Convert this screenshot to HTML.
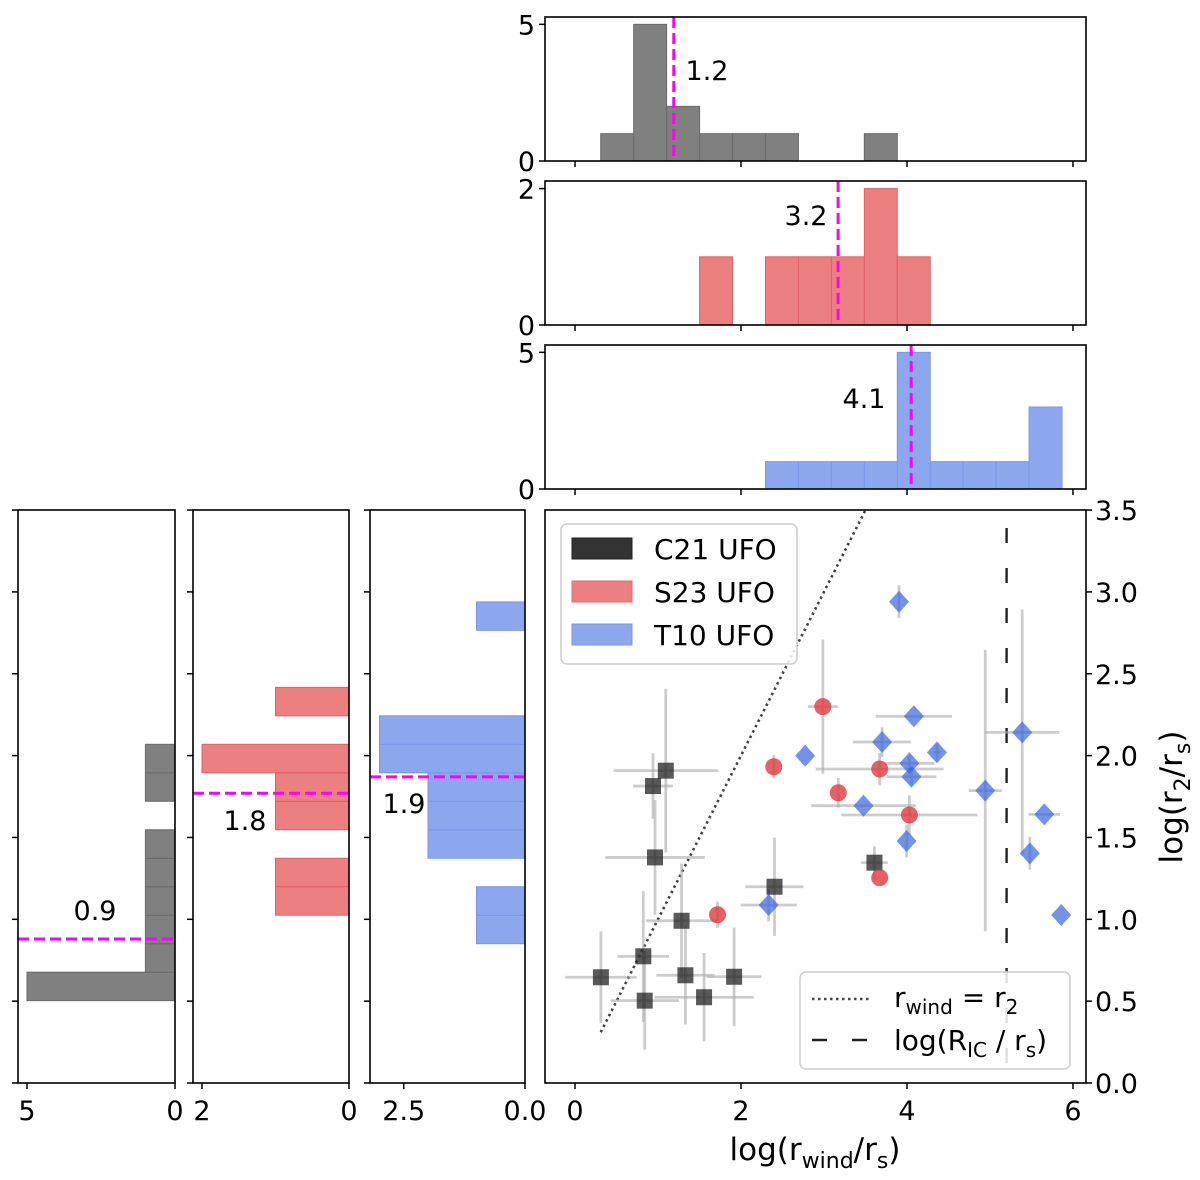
<!DOCTYPE html>
<html><head><meta charset="utf-8"><title>UFO wind radius chart</title>
<style>
html,body{margin:0;padding:0;background:#fff;}
svg{display:block;font-family:"DejaVu Sans","Liberation Sans",sans-serif;}
</style></head>
<body>
<svg id="fig" width="1200" height="1180" viewBox="0 0 1200 1180" xmlns="http://www.w3.org/2000/svg"></svg>
<script>
// ---------- data ----------
const c21X = [1.094,0.94,0.964,2.404,3.608,1.284,0.823,0.312,1.33,1.917,1.555,0.84];
const c21Y = [1.908,1.814,1.378,1.199,1.346,0.991,0.774,0.646,0.658,0.649,0.524,0.503];
const c21XErr = [0.63,0.24,0.6,0.35,0.16,0.43,0.31,0.43,0.35,0.33,0.6,0.41];
const c21YErr = [0.5,0.2,0.35,0.3,0.1,0.35,0.4,0.28,0.3,0.3,0.27,0.3];
const s23X = [2.986,2.395,3.671,3.172,4.029,3.671,1.717];
const s23Y = [2.299,1.932,1.918,1.773,1.637,1.254,1.028];
const s23XErr = [0.18,0,0.77,0,0.82,0,0];
const s23YErr = [0.41,0.07,0.1,0.09,0.12,0,0.08];
const t10X = [3.904,4.083,2.773,3.7,4.361,4.029,4.054,5.388,4.943,3.476,5.654,3.995,5.48,2.333,5.858];
const t10Y = [2.94,2.24,1.999,2.083,2.02,1.953,1.871,2.142,1.786,1.694,1.641,1.478,1.403,1.087,1.026];
const t10XErr = [0,0.46,0,0.35,0.05,0.3,0.3,0.45,0.2,0.63,0.19,0,0,0.34,0];
const t10YErr = [0.1,0,0,0.09,0.05,0.05,0.05,0.75,0.86,0,0,0.1,0.1,0.1,0];
// top histograms (log r_wind), 14 bins from 0.31 to 5.87
const xBinStart = 0.31;
const xBinWidth = 0.397;
const c21XCounts = [1,5,2,1,1,1,0,0,1,0,0,0,0,0];
const s23XCounts = [0,0,0,1,0,1,1,1,2,1,0,0,0,0];
const t10XCounts = [0,0,0,0,0,1,1,1,1,5,1,1,1,3];
const xMedians = [1.19,3.17,4.05];
const xMedianLabels = ["1.2","3.2","4.1"];
// left histograms (log r2), 14 bins from 0.503
const yBinStart = 0.503;
const yBinWidth = 0.174;
const c21YCounts = [5,1,1,1,1,1,0,1,1,0,0,0,0,0];
const s23YCounts = [0,0,0,1,1,0,1,1,2,0,1,0,0,0];
const t10YCounts = [0,0,1,1,0,2,2,2,3,3,0,0,0,1];
const yMedians = [0.88,1.77,1.87];
const yMedianLabels = ["0.9","1.8","1.9"];
const xTicks = [0,2,4,6];
const yTicks = [0,0.5,1,1.5,2,2.5,3,3.5];
const yTickLabels = ["0.0","0.5","1.0","1.5","2.0","2.5","3.0","3.5"];
const rIC = 5.2;

// ---------- scales ----------
const sx = v => 575 + 83 * v;
const sy = v => 1083 - 163.7 * v;
const NS = "http://www.w3.org/2000/svg";
const svg = document.getElementById('fig');
const FS = 27;
function mk(tag, attrs, parent, text) {
  const e = document.createElementNS(NS, tag);
  for (const k in attrs) e.setAttribute(k, attrs[k]);
  if (text !== undefined) e.textContent = text;
  (parent || svg).appendChild(e);
  return e;
}
const MAG = '#ff00ff';

// ---------- top histograms ----------
const topPanels = [
  {top:17, bottom:161, ppu:27.33, counts:c21XCounts, fill:'#808080', edge:'#6a6a6a', ticks:[0,5], name:'c21'},
  {top:181, bottom:325, ppu:68.2, counts:s23XCounts, fill:'#ec7f80', edge:'#e06264', ticks:[0,2], name:'s23'},
  {top:345, bottom:489, ppu:27.33, counts:t10XCounts, fill:'#8da7ef', edge:'#7a96ea', ticks:[0,5], name:'t10'}
];
topPanels.forEach((p, pi) => {
  const g = mk('g', {});
  
  
  p.counts.forEach((c, i) => {
    if (!c) return;
    const x0 = sx(xBinStart + i * xBinWidth), x1 = sx(xBinStart + (i + 1) * xBinWidth);
    const r = mk('rect', {x:x0, y:p.bottom - c * p.ppu, width:x1 - x0, height:c * p.ppu, fill:p.fill, stroke:p.edge, 'stroke-width':1}, g);
    
    
  });
  const mx = sx(xMedians[pi]);
  const ml = mk('line', {x1:mx, x2:mx, y1:p.top, y2:p.bottom, stroke:MAG, 'stroke-width':3, 'stroke-dasharray':'11,5'}, g);
  
  
  mk('rect', {x:545, y:p.top, width:541, height:p.bottom - p.top, fill:'none', stroke:'#000', 'stroke-width':1.6}, g);
  xTicks.forEach(t => mk('line', {x1:sx(t), x2:sx(t), y1:p.bottom, y2:p.bottom + 6, stroke:'#000', 'stroke-width':1.5}, g));
  p.ticks.forEach(t => {
    const y = p.bottom - t * p.ppu;
    mk('line', {x1:539, x2:545, y1:y, y2:y, stroke:'#000', 'stroke-width':1.5}, g);
    const tl = mk('text', {x:535, y:y + 10, 'font-size':FS, 'text-anchor':'end'}, g, String(t));
    
    
  });
});
const topLabelPos = [[707,80],[806,225],[864,408]];
topLabelPos.forEach((pos, i) => {
  const t = mk('text', {x:pos[0], y:pos[1], 'font-size':FS, 'text-anchor':'middle'}, svg, xMedianLabels[i]);
  
  
});

// ---------- left histograms ----------
const leftPanels = [
  {left:18, right:175, ppu:29.6, counts:c21YCounts, fill:'#808080', edge:'#6a6a6a', ticks:[[5,'5'],[0,'0']], name:'c21'},
  {left:193, right:349, ppu:73.5, counts:s23YCounts, fill:'#ec7f80', edge:'#e06264', ticks:[[2,'2'],[0,'0']], name:'s23'},
  {left:370, right:525, ppu:48.5, counts:t10YCounts, fill:'#8da7ef', edge:'#7a96ea', ticks:[[2.5,'2.5'],[0,'0.0']], name:'t10'}
];
leftPanels.forEach((p, pi) => {
  const g = mk('g', {});
  
  
  p.counts.forEach((c, i) => {
    if (!c) return;
    const y0 = sy(yBinStart + (i + 1) * yBinWidth), y1 = sy(yBinStart + i * yBinWidth);
    const r = mk('rect', {x:p.right - c * p.ppu, y:y0, width:c * p.ppu, height:y1 - y0, fill:p.fill, stroke:p.edge, 'stroke-width':1}, g);
    
    
  });
  const my = sy(yMedians[pi]);
  const ml = mk('line', {x1:p.left, x2:p.right, y1:my, y2:my, stroke:MAG, 'stroke-width':3, 'stroke-dasharray':'11,5'}, g);
  
  
  mk('rect', {x:p.left, y:510, width:p.right - p.left, height:573, fill:'none', stroke:'#000', 'stroke-width':1.6}, g);
  yTicks.forEach(t => mk('line', {x1:p.left - 6, x2:p.left, y1:sy(t), y2:sy(t), stroke:'#000', 'stroke-width':1.5}, g));
  p.ticks.forEach(tk => {
    const x = p.right - tk[0] * p.ppu;
    mk('line', {x1:x, x2:x, y1:1083, y2:1089, stroke:'#000', 'stroke-width':1.5}, g);
    const tl = mk('text', {x:x, y:1120, 'font-size':FS, 'text-anchor':'middle'}, g, tk[1]);
    
    
  });
});
const leftLabelPos = [[95,920],[245,830],[404,813]];
leftLabelPos.forEach((pos, i) => {
  const t = mk('text', {x:pos[0], y:pos[1], 'font-size':FS, 'text-anchor':'middle'}, svg, yMedianLabels[i]);
  
  
});

// ---------- scatter ----------
const sc = mk('g', {});


const dashL = mk('line', {x1:sx(rIC), x2:sx(rIC), y1:528, y2:1083, stroke:'#222', 'stroke-width':2.4, 'stroke-dasharray':'15,25'}, sc);


const dotL = mk('line', {x1:sx(0.31), y1:sy(0.31), x2:sx(3.5), y2:sy(3.5), stroke:'#444', 'stroke-width':2.6, 'stroke-dasharray':'2.5,3.5'}, sc);



function errs(xs, ys, xe, ye, name) {
  xs.forEach((x, i) => {
    if (xe[i] > 0) {
      const l = mk('line', {x1:sx(x - xe[i]), x2:sx(x + xe[i]), y1:sy(ys[i]), y2:sy(ys[i]), stroke:'#aaa', 'stroke-opacity':0.6, 'stroke-width':2.8}, sc);
      
      
    }
    if (ye[i] > 0) {
      const l = mk('line', {x1:sx(x), x2:sx(x), y1:sy(ys[i] - ye[i]), y2:sy(ys[i] + ye[i]), stroke:'#aaa', 'stroke-opacity':0.6, 'stroke-width':2.8}, sc);
      
      
    }
  });
}
errs(c21X, c21Y, c21XErr, c21YErr, 'c21');
errs(s23X, s23Y, s23XErr, s23YErr, 's23');
errs(t10X, t10Y, t10XErr, t10YErr, 't10');

c21X.forEach((x, i) => {
  const cx = sx(x), cy = sy(c21Y[i]);
  const m = mk('rect', {x:cx - 8, y:cy - 8, width:16, height:16, fill:'#222', 'fill-opacity':0.75}, sc);
  
  
});
s23X.forEach((x, i) => {
  const m = mk('circle', {cx:sx(x), cy:sy(s23Y[i]), r:8.5, fill:'#e03a3c', 'fill-opacity':0.8}, sc);
  
  
});
t10X.forEach((x, i) => {
  const cx = sx(x), cy = sy(t10Y[i]);
  const m = mk('polygon', {points:`${cx},${cy-11} ${cx+10},${cy} ${cx},${cy+11} ${cx-10},${cy}`, fill:'#3d6ae0', 'fill-opacity':0.72}, sc);
  
  
});

mk('rect', {x:545, y:510, width:541, height:573, fill:'none', stroke:'#000', 'stroke-width':1.6}, sc);
xTicks.forEach(t => {
  mk('line', {x1:sx(t), x2:sx(t), y1:1083, y2:1089, stroke:'#000', 'stroke-width':1.5}, sc);
  const tl = mk('text', {x:sx(t), y:1120, 'font-size':FS, 'text-anchor':'middle'}, sc, String(t));
  
  
});
yTicks.forEach((t, i) => {
  mk('line', {x1:1086, x2:1092, y1:sy(t), y2:sy(t), stroke:'#000', 'stroke-width':1.5}, sc);
  const tl = mk('text', {x:1095, y:sy(t) + 10, 'font-size':FS, 'text-anchor':'start'}, sc, yTickLabels[i]);
  
  
});
</script>
<svg style="position:absolute;left:0;top:0" width="1200" height="1180" xmlns="http://www.w3.org/2000/svg" font-family="DejaVu Sans, Liberation Sans, sans-serif">
  <text x="815" y="1160" font-size="31" text-anchor="middle">log(r<tspan font-size="22" dy="8">wind</tspan><tspan dy="-8">/r</tspan><tspan font-size="22" dy="8">s</tspan><tspan dy="-8">)</tspan></text>
  <text transform="translate(1182,797) rotate(-90)" font-size="31" text-anchor="middle">log(r<tspan font-size="22" dy="8">2</tspan><tspan dy="-8">/r</tspan><tspan font-size="22" dy="8">s</tspan><tspan dy="-8">)</tspan></text>
  <g>
    <rect x="561" y="524" width="236" height="140" rx="6" fill="#fff" fill-opacity="0.85" stroke="#ccc" stroke-width="1.5"/>
    <rect x="572" y="538" width="60" height="21" fill="#333" stroke="#222"/>
    <text x="654" y="559" font-size="28">C21 UFO</text>
    <rect x="572" y="581" width="60" height="21" fill="#ec7f80" stroke="#e86a6c"/>
    <text x="654" y="602" font-size="28">S23 UFO</text>
    <rect x="572" y="624" width="60" height="21" fill="#8da7ef" stroke="#7a96ea"/>
    <text x="654" y="645" font-size="28">T10 UFO</text>
  </g>
  <g>
    <rect x="800" y="972" width="270" height="97" rx="6" fill="#fff" fill-opacity="0.85" stroke="#ccc" stroke-width="1.5"/>
    <line x1="812" y1="999" x2="872" y2="999" stroke="#444" stroke-width="2.6" stroke-dasharray="2.5,3.5"/>
    <text x="894" y="1007" font-size="28">r<tspan font-size="20" dy="7">wind</tspan><tspan dy="-7"> = r</tspan><tspan font-size="20" dy="7">2</tspan></text>
    <line x1="812" y1="1040" x2="872" y2="1040" stroke="#222" stroke-width="2.4" stroke-dasharray="15,25"/>
    <text x="894" y="1050" font-size="28">log(R<tspan font-size="20" dy="7">IC</tspan><tspan dy="-7"> / r</tspan><tspan font-size="20" dy="7">s</tspan><tspan dy="-7">)</tspan></text>
  </g>
</svg>
</body></html>
